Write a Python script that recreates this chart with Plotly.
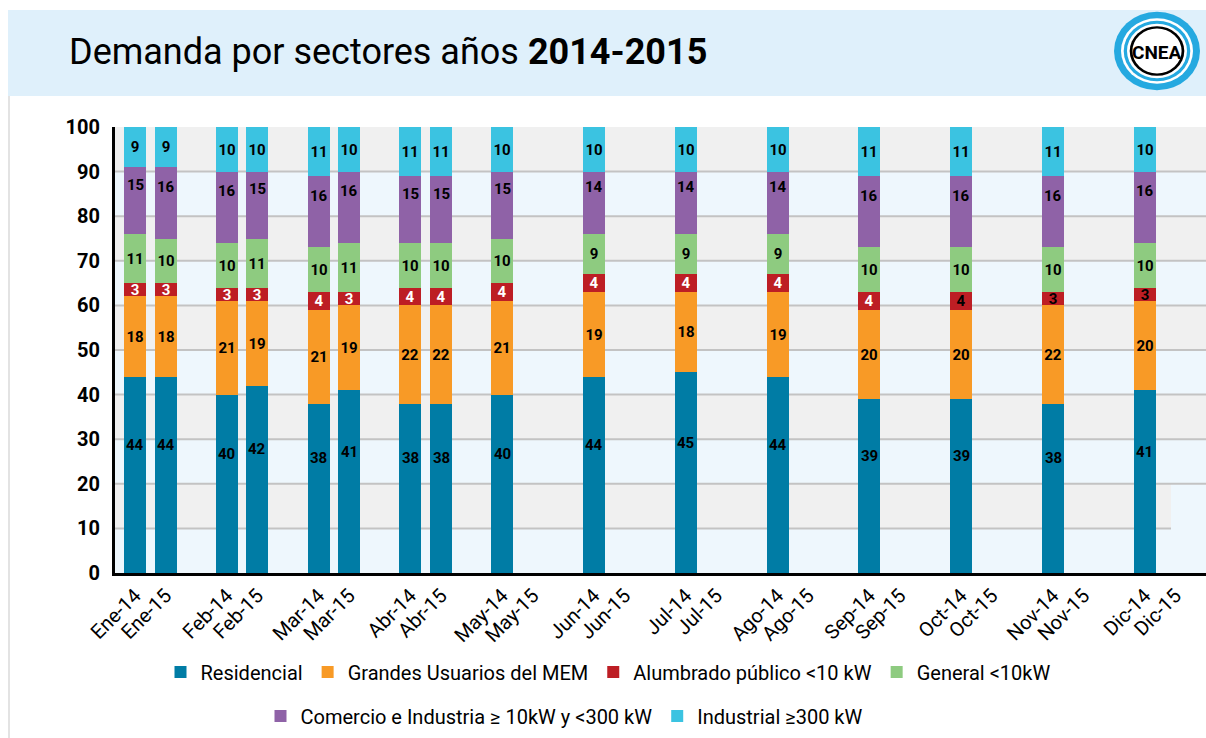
import plotly.graph_objects as go

# ---------------- data ----------------
categories = ["Ene-14", "Ene-15", "Feb-14", "Feb-15", "Mar-14", "Mar-15", "Abr-14", "Abr-15",
              "May-14", "May-15", "Jun-14", "Jun-15", "Jul-14", "Jul-15", "Ago-14", "Ago-15",
              "Sep-14", "Sep-15", "Oct-14", "Oct-15", "Nov-14", "Nov-15", "Dic-14", "Dic-15"]

residencial = [44, 44, 40, 42, 38, 41, 38, 38, 40, None, 44, None, 45, None, 44, None,
               39, None, 39, None, 38, None, 41, None]
grandes_usuarios = [18, 18, 21, 19, 21, 19, 22, 22, 21, None, 19, None, 18, None, 19, None,
                    20, None, 20, None, 22, None, 20, None]
alumbrado = [3, 3, 3, 3, 4, 3, 4, 4, 4, None, 4, None, 4, None, 4, None,
             4, None, 4, None, 3, None, 3, None]
general = [11, 10, 10, 11, 10, 11, 10, 10, 10, None, 9, None, 9, None, 9, None,
           10, None, 10, None, 10, None, 10, None]
comercio = [15, 16, 16, 15, 16, 16, 15, 15, 15, None, 14, None, 14, None, 14, None,
            16, None, 16, None, 16, None, 16, None]
industrial = [9, 9, 10, 10, 11, 10, 11, 11, 10, None, 10, None, 10, None, 10, None,
              11, None, 11, None, 11, None, 10, None]

y_ticks = [0, 10, 20, 30, 40, 50, 60, 70, 80, 90, 100]

# ---------------- layout helpers ----------------
W, H = 1206, 738
L, R, T, B = 115, 0, 127, 165
PW, PH = W - L - R, H - T - B


def px(x):
    return (x - L) / PW


def py(y):
    return (H - B - y) / PH


# x position: three slots per month (2014, 2015, gap)
xpos = [3 * (i // 2) + (i % 2) for i in range(len(categories))]

FONT = "Roboto"
LABEL_FONT = dict(family=FONT, size=15, color="black", weight="bold")
series = [
    ("Residencial", residencial, "#007ca5", "legend"),
    ("Grandes Usuarios del MEM", grandes_usuarios, "#f89a26", "legend"),
    ("Alumbrado público <10 kW", alumbrado, "#bd1e24", "legend"),
    ("General <10kW", general, "#8ecb80", "legend"),
    ("Comercio e Industria ≥ 10kW y <300 kW", comercio, "#8f62a7", "legend2"),
    ("Industrial ≥300 kW", industrial, "#3bc3e1", "legend2"),
]

# label colours on the red segments (white except the last three months)
red_label_colors = ["white"] * 18 + ["black"] * 6
# series whose labels sit above the segment centre (pixel offset), drawn as annotations
label_shift = {"Residencial": 30, "Comercio e Industria ≥ 10kW y <300 kW": 16}

fig = go.Figure()
annotations = []
base = [0] * len(categories)
for name, vals, color, leg in series:
    tcolor = red_label_colors if name.startswith("Alumbrado") else "black"
    shifted = name in label_shift
    fig.add_trace(go.Bar(
        x=xpos, y=vals, name=name, marker=dict(color=color, line=dict(width=0)),
        width=0.72, text=vals, texttemplate="%{text}",
        textposition="none" if shifted else "inside",
        insidetextanchor="middle", textangle=0,
        textfont=dict(LABEL_FONT, color=tcolor),
        legend=leg, hoverinfo="skip",
    ))
    for i, v in enumerate(vals):
        if v is None:
            continue
        if shifted:
            annotations.append(dict(x=xpos[i], y=base[i] + v / 2, xref="x", yref="y",
                                    text=str(v), showarrow=False, yshift=label_shift[name],
                                    font=LABEL_FONT))
        base[i] += v

shapes = []
# background bands
for k in range(5):
    y0 = 10 + 20 * k
    shapes.append(dict(type="rect", xref="paper", yref="y", x0=0,
                       x1=px(1171) if y0 == 10 else 1, y0=y0, y1=y0 + 10,
                       fillcolor="#f0f0f0", line=dict(width=0), layer="below"))
# gridlines
for v in y_ticks[1:-1]:
    shapes.append(dict(type="line", xref="paper", yref="y", x0=0,
                       x1=px(1171) if v == 10 else 1, y0=v, y1=v,
                       line=dict(color="#c3c3c3", width=2), layer="below"))
# header band
shapes.append(dict(type="rect", xref="paper", yref="paper", x0=px(8), x1=px(1206),
                   y0=py(96), y1=py(10), fillcolor="#dff0fb", line=dict(width=0), layer="below"))
# left border line
shapes.append(dict(type="line", xref="paper", yref="paper", x0=px(9), x1=px(9),
                   y0=py(96), y1=py(738), line=dict(color="#e3e3e3", width=2), layer="below"))
# logo rings
cx, cy = 1157, 51
rings = [(43, "#25a9e0"), (36, "white"), (33.3, "#25a9e0"), (30, "white"),
         (27.3, "black"), (24.6, "white")]
for r, c in rings:
    ry = r * 0.91
    shapes.append(dict(type="circle", xref="paper", yref="paper",
                       x0=px(cx - r), x1=px(cx + r), y0=py(cy + ry), y1=py(cy - ry),
                       fillcolor=c, line=dict(width=0), layer="above"))

annotations += [
    dict(xref="paper", yref="paper", x=px(67), y=py(52), xanchor="left", yanchor="middle",
         text="Demanda por sectores años <b>2014-2015</b>", showarrow=False,
         font=dict(family=FONT, size=36, color="black")),
    dict(xref="paper", yref="paper", x=px(cx), y=py(cy + 1), xanchor="center", yanchor="middle",
         text="CNEA", showarrow=False,
         font=dict(family=FONT, size=19, color="black", weight="bold")),
]

fig.update_layout(
    width=W, height=H,
    margin=dict(l=L, r=R, t=T, b=B, pad=0),
    paper_bgcolor="white", plot_bgcolor="#eef7fd",
    barmode="stack", bargap=0,
    shapes=shapes, annotations=annotations,
    uniformtext=dict(minsize=15, mode="show"),
    xaxis=dict(range=[-0.654, 35.0], tickvals=xpos, ticktext=categories, tickangle=-45,
               tickfont=dict(family=FONT, size=20, color="black"),
               showgrid=False, zeroline=False, showline=True, linecolor="black", linewidth=3,
               ticks="", fixedrange=True),
    yaxis=dict(range=[0, 100], tickvals=y_ticks, showgrid=False, zeroline=False,
               showline=True, linecolor="black", linewidth=3, ticks="",
               ticklabelstandoff=8, fixedrange=True,
               tickfont=dict(family=FONT, size=20, color="black", weight="bold")),
    legend=dict(orientation="h", x=px(608), y=py(672), xanchor="center", yanchor="middle",
                font=dict(family=FONT, size=20, color="black"), bgcolor="rgba(0,0,0,0)",
                traceorder="normal"),
    legend2=dict(orientation="h", x=px(564), y=py(716), xanchor="center", yanchor="middle",
                 font=dict(family=FONT, size=20, color="black"), bgcolor="rgba(0,0,0,0)",
                 traceorder="normal"),
    showlegend=True,
)

fig.write_html("out.html", config={"displayModeBar": False},
               post_script="document.body.style.margin='0px';document.body.style.overflow='hidden';")
